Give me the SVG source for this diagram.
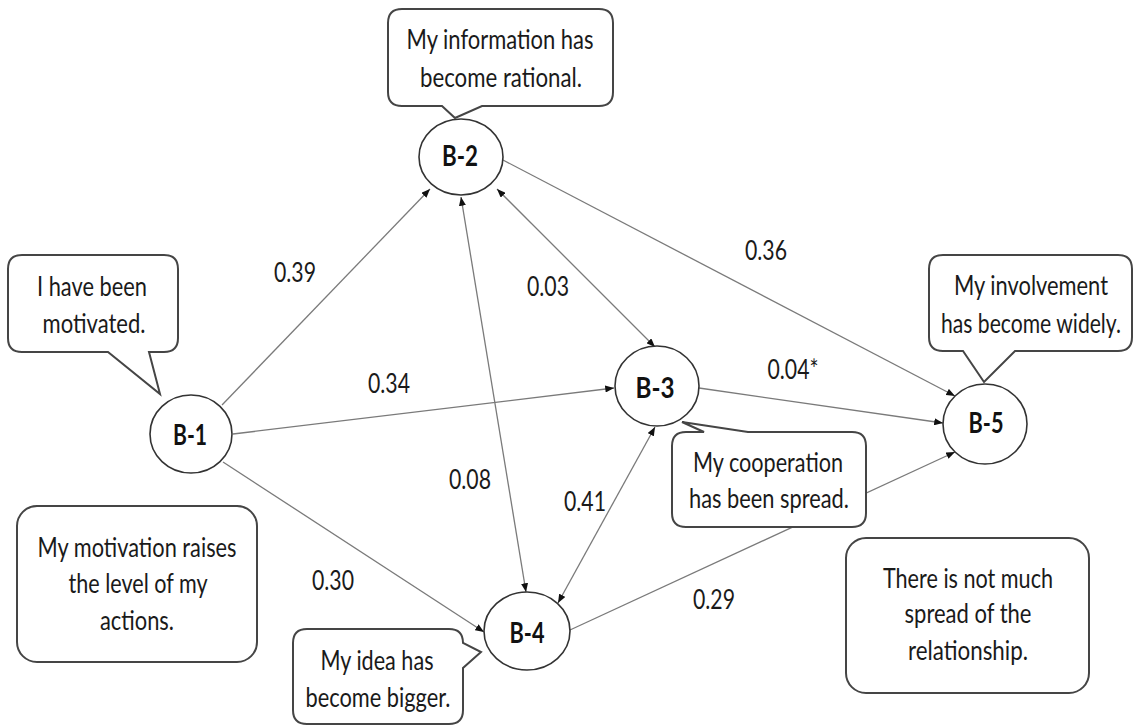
<svg xmlns="http://www.w3.org/2000/svg" width="1137" height="725" viewBox="0 0 1137 725">
<style>
  .edge { stroke: #7a7a7a; stroke-width: 1.3; fill: none; }
  .node { fill: #ffffff; stroke: #333333; stroke-width: 1.6; }
  .box { fill: #ffffff; stroke: #454545; stroke-width: 2; }
  .lbl { font-family: "Lato", "Open Sans", sans-serif; font-size: 26px; fill: #1a1a1a; text-anchor: middle; }
  .nlbl { font-family: "Lato", "Open Sans", sans-serif; font-size: 28px; font-weight: bold; fill: #111111; text-anchor: middle; }
  .txt { font-family: "Lato", "Open Sans", sans-serif; font-size: 26px; fill: #1a1a1a; text-anchor: middle; }
</style>
<defs>
  <marker id="ah" viewBox="0 0 10 8" refX="10" refY="4" markerWidth="9" markerHeight="7" markerUnits="userSpaceOnUse" orient="auto-start-reverse">
    <path d="M0,0 L10,4 L0,8 z" fill="#111111"/>
  </marker>
</defs>

<g id="connectors">
  <line class="edge" x1="222" y1="405" x2="430" y2="189" marker-end="url(#ah)"/>
  <line class="edge" x1="233" y1="434" x2="614" y2="388" marker-end="url(#ah)"/>
  <line class="edge" x1="223" y1="462" x2="484" y2="632" marker-end="url(#ah)"/>
  <line class="edge" x1="497" y1="189" x2="655" y2="347" marker-start="url(#ah)" marker-end="url(#ah)"/>
  <line class="edge" x1="461" y1="197" x2="526" y2="592" marker-start="url(#ah)" marker-end="url(#ah)"/>
  <line class="edge" x1="655" y1="427" x2="558" y2="603" marker-start="url(#ah)" marker-end="url(#ah)"/>
  <line class="edge" x1="503" y1="160" x2="955" y2="396" marker-end="url(#ah)"/>
  <line class="edge" x1="699" y1="388" x2="943" y2="423" marker-end="url(#ah)"/>
  <line class="edge" x1="570" y1="630" x2="955" y2="452" marker-end="url(#ah)"/>
  <text class="lbl" x="295" y="282" textLength="42" lengthAdjust="spacingAndGlyphs">0.39</text>
  <text class="lbl" x="389" y="393" textLength="42" lengthAdjust="spacingAndGlyphs">0.34</text>
  <text class="lbl" x="548" y="296" textLength="42" lengthAdjust="spacingAndGlyphs">0.03</text>
  <text class="lbl" x="766" y="260" textLength="42" lengthAdjust="spacingAndGlyphs">0.36</text>
  <text class="lbl" x="793" y="379" textLength="51" lengthAdjust="spacingAndGlyphs">0.04*</text>
  <text class="lbl" x="470" y="489" textLength="42" lengthAdjust="spacingAndGlyphs">0.08</text>
  <text class="lbl" x="585" y="511" textLength="42" lengthAdjust="spacingAndGlyphs">0.41</text>
  <text class="lbl" x="333" y="590" textLength="42" lengthAdjust="spacingAndGlyphs">0.30</text>
  <text class="lbl" x="714" y="609" textLength="42" lengthAdjust="spacingAndGlyphs">0.29</text>
</g>

<g id="node-B1">
  <ellipse class="node" cx="191" cy="434" rx="41" ry="39"/>
  <text class="nlbl" x="190" y="445" textLength="34" lengthAdjust="spacingAndGlyphs">B-1</text>
</g>
<g id="node-B2">
  <ellipse class="node" cx="461" cy="157" rx="42" ry="38"/>
  <text class="nlbl" x="460" y="166" textLength="36" lengthAdjust="spacingAndGlyphs">B-2</text>
</g>
<g id="node-B3">
  <ellipse class="node" cx="657" cy="386" rx="42" ry="40"/>
  <text class="nlbl" x="655" y="398" textLength="39" lengthAdjust="spacingAndGlyphs">B-3</text>
</g>
<g id="node-B4">
  <ellipse class="node" cx="527" cy="631" rx="43" ry="39"/>
  <text class="nlbl" x="527" y="643" textLength="35" lengthAdjust="spacingAndGlyphs">B-4</text>
</g>
<g id="node-B5">
  <ellipse class="node" cx="985" cy="424" rx="42" ry="40"/>
  <text class="nlbl" x="986" y="433" textLength="35" lengthAdjust="spacingAndGlyphs">B-5</text>
</g>

<g id="callout-B1">
  <path class="box" d="M22,255 H164 Q178,255 178,269 V338 Q178,352 164,352 H149 L160,394 L108,352 H22 Q8,352 8,338 V269 Q8,255 22,255 Z"/>
  <text class="txt" x="92" y="296" textLength="110" lengthAdjust="spacingAndGlyphs">I have been</text>
  <text class="txt" x="94" y="333" textLength="103" lengthAdjust="spacingAndGlyphs">motivated.</text>
</g>
<g id="callout-B2">
  <path class="box" d="M402,9 H599 Q613,9 613,23 V92 Q613,106 599,106 H482 L455,118 L442,106 H402 Q388,106 388,92 V23 Q388,9 402,9 Z"/>
  <text class="txt" x="500" y="49" textLength="187" lengthAdjust="spacingAndGlyphs">My information has</text>
  <text class="txt" x="501" y="87" textLength="162" lengthAdjust="spacingAndGlyphs">become rational.</text>
</g>
<g id="callout-B3">
  <path class="box" d="M686,432 H704 L682,422 L748,432 H852 Q866,432 866,446 V513 Q866,527 852,527 H686 Q672,527 672,513 V446 Q672,432 686,432 Z"/>
  <text class="txt" x="768" y="472" textLength="150" lengthAdjust="spacingAndGlyphs">My cooperation</text>
  <text class="txt" x="769" y="508" textLength="160" lengthAdjust="spacingAndGlyphs">has been spread.</text>
</g>
<g id="callout-B5">
  <path class="box" d="M943,255 H1118 Q1132,255 1132,269 V337 Q1132,351 1118,351 H1015 L984,382 L963,351 H943 Q929,351 929,337 V269 Q929,255 943,255 Z"/>
  <text class="txt" x="1031" y="295" textLength="154" lengthAdjust="spacingAndGlyphs">My involvement</text>
  <text class="txt" x="1031" y="333" font-size="24" textLength="180" lengthAdjust="spacingAndGlyphs">has become widely.</text>
</g>
<g id="callout-B4">
  <path class="box" d="M307,629 H449 Q463,629 463,643 L481,652 L463,668 V710 Q463,724 449,724 H307 Q293,724 293,710 V643 Q293,629 307,629 Z"/>
  <text class="txt" x="377" y="670" textLength="113" lengthAdjust="spacingAndGlyphs">My idea has</text>
  <text class="txt" x="378" y="707" textLength="145" lengthAdjust="spacingAndGlyphs">become bigger.</text>
</g>
<g id="note-left">
  <rect class="box" x="17" y="506" width="240" height="156" rx="20" ry="20"/>
  <text class="txt" x="137" y="557" textLength="199" lengthAdjust="spacingAndGlyphs">My motivation raises</text>
  <text class="txt" x="138" y="593" textLength="139" lengthAdjust="spacingAndGlyphs">the level of my</text>
  <text class="txt" x="137" y="630" textLength="74" lengthAdjust="spacingAndGlyphs">actions.</text>
</g>
<g id="note-right">
  <rect class="box" x="846" y="538" width="243" height="155" rx="20" ry="20"/>
  <text class="txt" x="968" y="588" textLength="170" lengthAdjust="spacingAndGlyphs">There is not much</text>
  <text class="txt" x="968" y="623" textLength="127" lengthAdjust="spacingAndGlyphs">spread of the</text>
  <text class="txt" x="968" y="660" textLength="120" lengthAdjust="spacingAndGlyphs">relationship.</text>
</g>
</svg>
